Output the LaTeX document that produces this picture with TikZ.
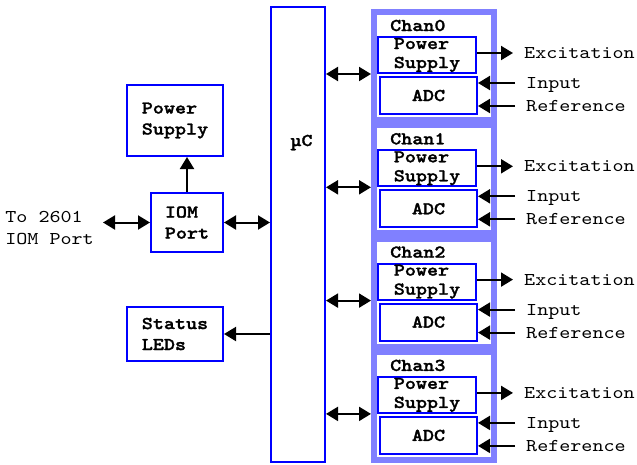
\documentclass[tikz,border=0pt]{standalone}
\usepackage{fontspec}
\setmonofont{lmmono10-regular.otf}[BoldFont=lmmonolt10-bold.otf, BoldFeatures={FakeBold=1.5}, FakeStretch=1.17]
\usepackage{xcolor}
\usetikzlibrary{positioning, arrows.meta}
\definecolor{boxblue}{RGB}{0,0,255}
\definecolor{chanblue}{RGB}{128,128,255}

\begin{document}
\begin{tikzpicture}[
    x=1pt, y=-1pt,
    font=\ttfamily\fontsize{18}{21}\selectfont,
    >={Triangle[length=12pt, width=14pt]},
    box/.style={rectangle, draw=boxblue, line width=2pt, inner sep=0pt, align=left, font=\ttfamily\bfseries\fontsize{18}{21}\selectfont},
    chanbox/.style={rectangle, draw=chanblue, line width=6pt, minimum width=120pt, minimum height=108pt},
    sub/.style={box, minimum width=98pt, minimum height=36pt, font=\ttfamily\bfseries\fontsize{18}{19}\selectfont},
    title/.style={inner sep=0pt, font=\ttfamily\bfseries\fontsize{18}{20}\selectfont},
    sig/.style={anchor=west, inner xsep=11pt, inner ysep=0pt, text height=11pt, text depth=0pt},
    arrow/.style={->, line width=2pt},
    biarrow/.style={<->, line width=2pt}
]
\useasboundingbox (0,0) rectangle (637,464);

% left side
\node[box, minimum width=96pt, minimum height=71pt] (pwr) at (175,120.5) {Power\\Supply};
\node[box, minimum width=72pt, minimum height=59pt] (iom) at (187,222.5) {IOM\\Port};
\node[box, minimum width=96pt, minimum height=54pt] (leds) at (175,334) {Status\\LEDs};
\node[align=left, inner xsep=9pt, inner ysep=0pt, anchor=east, font=\ttfamily\fontsize{18}{22}\selectfont] (to2601) at (103,228) {To 2601\\IOM Port};

% micro controller
\node[box, minimum width=54pt, minimum height=455pt] (mc) at (298,234.5) {};
\node[title, anchor=base] (mclbl) at (301.5,146) {µC};

% channels
\foreach \i in {0,...,3} {
  \node[chanbox] (chan\i) at (434,{66+113.3*\i}) {};
  \node[title, anchor=base west] (lbl\i) at (390,{31+113.3*\i}) {Chan\i};
  \node[sub] (ps\i) at (427,{55+113.3*\i}) {Power\\Supply};
  \node[sub, minimum width=97pt, minimum height=37pt] (adc\i) at (428.5,{95.5+113.3*\i}) {ADC};
  \node[sig] (exc\i) at (513,{53+113.3*\i}) {Excitation};
  \node[sig] (inp\i) at (515,{83+113.3*\i}) {Input};
  \node[sig] (ref\i) at (515,{106+113.3*\i}) {Reference};

  \draw[biarrow] (mc.east |- ps\i.south) -- (chan\i.west |- ps\i.south);
  \draw[arrow] (ps\i.east |- exc\i.west) -- (exc\i.west);
  \draw[arrow] (inp\i.west) -- (adc\i.east |- inp\i.west);
  \draw[arrow] (ref\i.west) -- (adc\i.east |- ref\i.west);
}

\draw[biarrow] (to2601.east |- iom.west) -- (iom.west);
\draw[biarrow] (iom.east) -- (mc.west |- iom.east);
\draw[arrow] (iom.north) -- (iom.north |- pwr.south);
\draw[arrow] (mc.west |- leds.east) -- (leds.east);
\end{tikzpicture}
\end{document}
